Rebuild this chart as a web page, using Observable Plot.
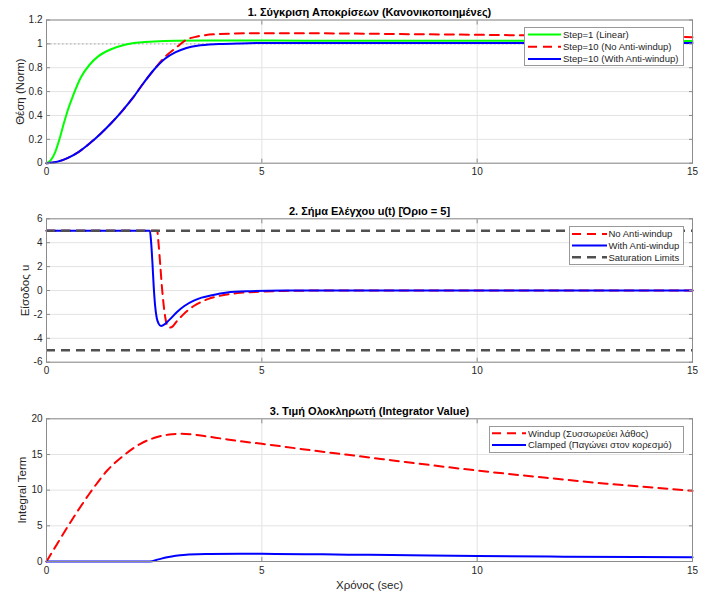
<!DOCTYPE html>
<html>
<head>
<meta charset="utf-8">
<script src="https://cdn.jsdelivr.net/npm/d3@7"></script>
<script src="https://cdn.jsdelivr.net/npm/@observablehq/plot@0.6"></script>
<style>
  body { margin: 0; background: #fff; }
  #fig { position: relative; width: 710px; height: 595px; background: #fff;
         font-family: "Liberation Sans", Arial, Helvetica, sans-serif; }
  #fig svg { position: absolute; left: 0; }
</style>
</head>
<body>
<div id="fig"></div>
<script>
// ---------- shared time axis ----------
const timeTicks = [0, 5, 10, 15];

// ---------- panel 1: normalised position responses ----------
const posTicks = [0, 0.2, 0.4, 0.6, 0.8, 1, 1.2];
const linT   = [0, 0.1, 0.2, 0.3, 0.4, 0.5, 0.6, 0.8, 1.0, 1.2, 1.5, 1.8, 2.0, 2.5, 3, 4, 6, 10, 15];
const linPos = [0, 0.025, 0.09, 0.2, 0.33, 0.45, 0.55, 0.72, 0.825, 0.895, 0.955, 0.99, 1.005, 1.02, 1.026, 1.028, 1.027, 1.026, 1.025];

const noAwT   = [0, 0.25, 0.5, 0.75, 1.0, 1.25, 1.5, 1.75, 2.0, 2.25, 2.5, 2.75, 3.0, 3.25, 3.5, 4, 5, 6, 8, 10, 12, 15];
const noAwPos = [0, 0.012, 0.045, 0.095, 0.165, 0.245, 0.335, 0.435, 0.545, 0.67, 0.785, 0.89, 0.965, 1.035, 1.062, 1.082, 1.09, 1.089, 1.083, 1.076, 1.068, 1.056];

const awT   = [0, 0.25, 0.5, 0.75, 1.0, 1.25, 1.5, 1.75, 2.0, 2.25, 2.5, 2.75, 3.0, 3.25, 3.5, 4, 4.5, 5, 6, 15];
const awPos = [0, 0.012, 0.045, 0.095, 0.165, 0.245, 0.335, 0.435, 0.545, 0.67, 0.785, 0.875, 0.93, 0.965, 0.984, 0.998, 1.004, 1.007, 1.008, 1.008];

const refLevel = [1];

// ---------- panel 2: control signal ----------
const uTicks = [-6, -4, -2, 0, 2, 4, 6];
const satLimits = [5, -5];
const uNoAwT = [0, 2.57, 2.60, 2.64, 2.68, 2.72, 2.76, 2.80, 2.86, 2.93, 3.03, 3.15, 3.27, 3.42, 3.57, 3.76, 3.96, 4.43, 4.97, 5.5, 6.5, 15];
const uNoAw  = [5, 5, 4.0, 2.2, 0.3, -1.2, -2.3, -2.9, -3.1, -3.0, -2.55, -2.1, -1.7, -1.3, -1.0, -0.7, -0.5, -0.22, -0.1, -0.04, 0, 0];
const uAwT = [0, 2.40, 2.43, 2.46, 2.49, 2.52, 2.56, 2.60, 2.66, 2.72, 2.84, 3.03, 3.2, 3.42, 3.6, 3.81, 4.19, 4.74, 5.5, 7, 15];
const uAw  = [5, 5, 4.0, 2.3, 0.3, -1.2, -2.3, -2.75, -2.97, -2.88, -2.5, -1.8, -1.3, -0.85, -0.6, -0.42, -0.17, -0.06, -0.01, 0, 0];

// ---------- panel 3: integrator state ----------
const intTicks = [0, 5, 10, 15, 20];
const windupT = [0, 0.25, 0.63, 1.02, 1.41, 1.79, 2.18, 2.57, 2.85, 3.11, 3.4, 3.73, 4.1, 4.5, 5, 6, 7, 8, 9, 10, 11, 12, 13, 14, 15];
const windup  = [0, 2.5, 6.2, 9.7, 12.75, 14.85, 16.5, 17.45, 17.8, 17.9, 17.8, 17.52, 17.2, 16.86, 16.5, 15.7, 14.95, 14.2, 13.45, 12.75, 12.1, 11.5, 10.9, 10.4, 9.9];
const clampT = [0, 2.4, 2.6, 2.8, 3.0, 3.3, 3.7, 4.5, 5, 6, 7, 8, 10, 12, 15];
const clamp  = [0, 0, 0.3, 0.6, 0.82, 0.97, 1.06, 1.09, 1.08, 1.03, 0.96, 0.9, 0.76, 0.68, 0.6];

// ---------- styling ----------
const FONT = '"Liberation Sans", Arial, Helvetica, sans-serif';
const INK = "#262626";
const EDGE = "#8c8c8c";
const GRID = "#e3e3e3";
const RED_DASH = "9,6";
const SAT_DASH = "9,6";

const series = (t, v) => t.map((d, i) => ({t: d, v: v[i]}));
const fmtNum = d => String(+d.toFixed(2));

const fig = document.getElementById("fig");

function panel({top, height, marginTop, marginBottom, yDomain, yTicks, title, yLabel, yLabelDx, xLabel, marks}) {
  const chart = Plot.plot({
    width: 710,
    height,
    marginLeft: 46,
    marginRight: 18,
    marginTop,
    marginBottom,
    style: {fontFamily: FONT, fontSize: "10px", color: INK, background: "transparent", overflow: "visible"},
    x: {domain: [0, 15]},
    y: {domain: yDomain},
    marks: [
      Plot.gridX({ticks: timeTicks, stroke: GRID, strokeOpacity: 1}),
      Plot.gridY({ticks: yTicks, stroke: GRID, strokeOpacity: 1}),
      ...marks,
      Plot.frame({stroke: EDGE}),
      Plot.axisX({ticks: timeTicks, tickSize: -4, tickPadding: 9, tickFormat: fmtNum, label: null, stroke: EDGE, fill: INK}),
      Plot.axisX({anchor: "top", ticks: timeTicks, tickSize: -4, tickFormat: () => "", label: null, stroke: EDGE}),
      Plot.axisY({ticks: yTicks, tickSize: -4, tickPadding: 8, tickFormat: fmtNum, label: null, stroke: EDGE, fill: INK}),
      Plot.axisY({anchor: "right", ticks: yTicks, tickSize: -4, tickFormat: () => "", label: null, stroke: EDGE}),
      Plot.text([title], {frameAnchor: "top", lineAnchor: "bottom", dy: -4, fontWeight: "bold", fontSize: 11, fill: "#000"}),
      Plot.text([yLabel], {frameAnchor: "left", rotate: -90, dx: yLabelDx, textAnchor: "middle", lineAnchor: "middle", fontSize: 11.5, fill: INK}),
      ...(xLabel ? [Plot.text([xLabel], {frameAnchor: "bottom", dy: 24, lineAnchor: "middle", fontSize: 11.5, fill: INK})] : [])
    ]
  });
  chart.style.top = top + "px";
  fig.appendChild(chart);
}

function legend({left, top, width, height, x1, x2, textX, y0, gap, rows}) {
  const svg = d3.select(fig).append("svg")
    .attr("width", width + 1).attr("height", height + 1)
    .style("left", left + "px").style("top", top + "px");
  svg.append("rect").attr("x", 0.5).attr("y", 0.5).attr("width", width).attr("height", height)
    .attr("fill", "#fff").attr("stroke", "#999");
  rows.forEach((r, i) => {
    const y = y0 + i * gap;
    svg.append("line").attr("x1", x1).attr("x2", x2).attr("y1", y).attr("y2", y)
      .attr("stroke", r.stroke).attr("stroke-width", r.width)
      .attr("stroke-dasharray", r.dash || null);
    svg.append("text").attr("x", textX).attr("y", y).attr("dy", "0.35em")
      .attr("font-family", FONT).attr("font-size", 9.5).attr("fill", INK).text(r.label);
  });
}

// Panel 1
panel({
  top: 0, height: 200, marginTop: 19.5, marginBottom: 37.3,
  yDomain: [0, 1.2], yTicks: posTicks,
  title: "1. Σύγκριση Αποκρίσεων (Κανονικοποιημένες)",
  yLabel: "Θέση (Norm)", yLabelDx: -26,
  marks: [
    Plot.ruleY(refLevel, {stroke: "#a8a8a8", strokeDasharray: "1.5,2.5", strokeWidth: 1}),
    Plot.line(series(linT, linPos), {x: "t", y: "v", stroke: "#00ff00", strokeWidth: 2, curve: "monotone-x"}),
    Plot.line(series(noAwT, noAwPos), {x: "t", y: "v", stroke: "#ff0000", strokeWidth: 2, strokeDasharray: RED_DASH, curve: "monotone-x"}),
    Plot.line(series(awT, awPos), {x: "t", y: "v", stroke: "#0000ff", strokeWidth: 2, curve: "monotone-x"})
  ]
});

// Panel 2
panel({
  top: 200, height: 200, marginTop: 18.3, marginBottom: 38.3,
  yDomain: [-6, 6], yTicks: uTicks,
  title: "2. Σήμα Ελέγχου u(t) [Όριο = 5]",
  yLabel: "Είσοδος u", yLabelDx: -21,
  marks: [
    Plot.line(series(uNoAwT, uNoAw), {x: "t", y: "v", stroke: "#ff0000", strokeWidth: 2, strokeDasharray: RED_DASH, curve: "monotone-x"}),
    Plot.line(series(uAwT, uAw), {x: "t", y: "v", stroke: "#0000ff", strokeWidth: 2, curve: "monotone-x"}),
    Plot.ruleY(satLimits, {stroke: "#505050", strokeWidth: 2.5, strokeDasharray: SAT_DASH})
  ]
});

// Panel 3
panel({
  top: 400, height: 195, marginTop: 18.3, marginBottom: 34,
  yDomain: [0, 20], yTicks: intTicks,
  title: "3. Τιμή Ολοκληρωτή (Integrator Value)",
  yLabel: "Integral Term", yLabelDx: -24,
  xLabel: "Χρόνος (sec)",
  marks: [
    Plot.line(series(windupT, windup), {x: "t", y: "v", stroke: "#ff0000", strokeWidth: 2, strokeDasharray: RED_DASH, curve: "monotone-x"}),
    Plot.line(series(clampT, clamp), {x: "t", y: "v", stroke: "#0000ff", strokeWidth: 2, curve: "monotone-x"})
  ]
});

// Legends
legend({
  left: 524, top: 27, width: 159, height: 38, x1: 4, x2: 37, textX: 39, y0: 7.5, gap: 12.2,
  rows: [
    {label: "Step=1 (Linear)", stroke: "#00ff00", width: 2},
    {label: "Step=10 (No Anti-windup)", stroke: "#ff0000", width: 2, dash: RED_DASH},
    {label: "Step=10 (With Anti-windup)", stroke: "#0000ff", width: 2}
  ]
});
legend({
  left: 569, top: 226, width: 114, height: 38, x1: 3, x2: 38, textX: 39.5, y0: 8, gap: 11.6,
  rows: [
    {label: "No Anti-windup", stroke: "#ff0000", width: 2, dash: RED_DASH},
    {label: "With Anti-windup", stroke: "#0000ff", width: 2},
    {label: "Saturation Limits", stroke: "#505050", width: 2.5, dash: SAT_DASH}
  ]
});
legend({
  left: 489, top: 426, width: 194, height: 26, x1: 3, x2: 37, textX: 39, y0: 7.3, gap: 11.7,
  rows: [
    {label: "Windup (Συσσωρεύει λάθος)", stroke: "#ff0000", width: 2, dash: RED_DASH},
    {label: "Clamped (Παγώνει στον κορεσμό)", stroke: "#0000ff", width: 2}
  ]
});
</script>
</body>
</html>
